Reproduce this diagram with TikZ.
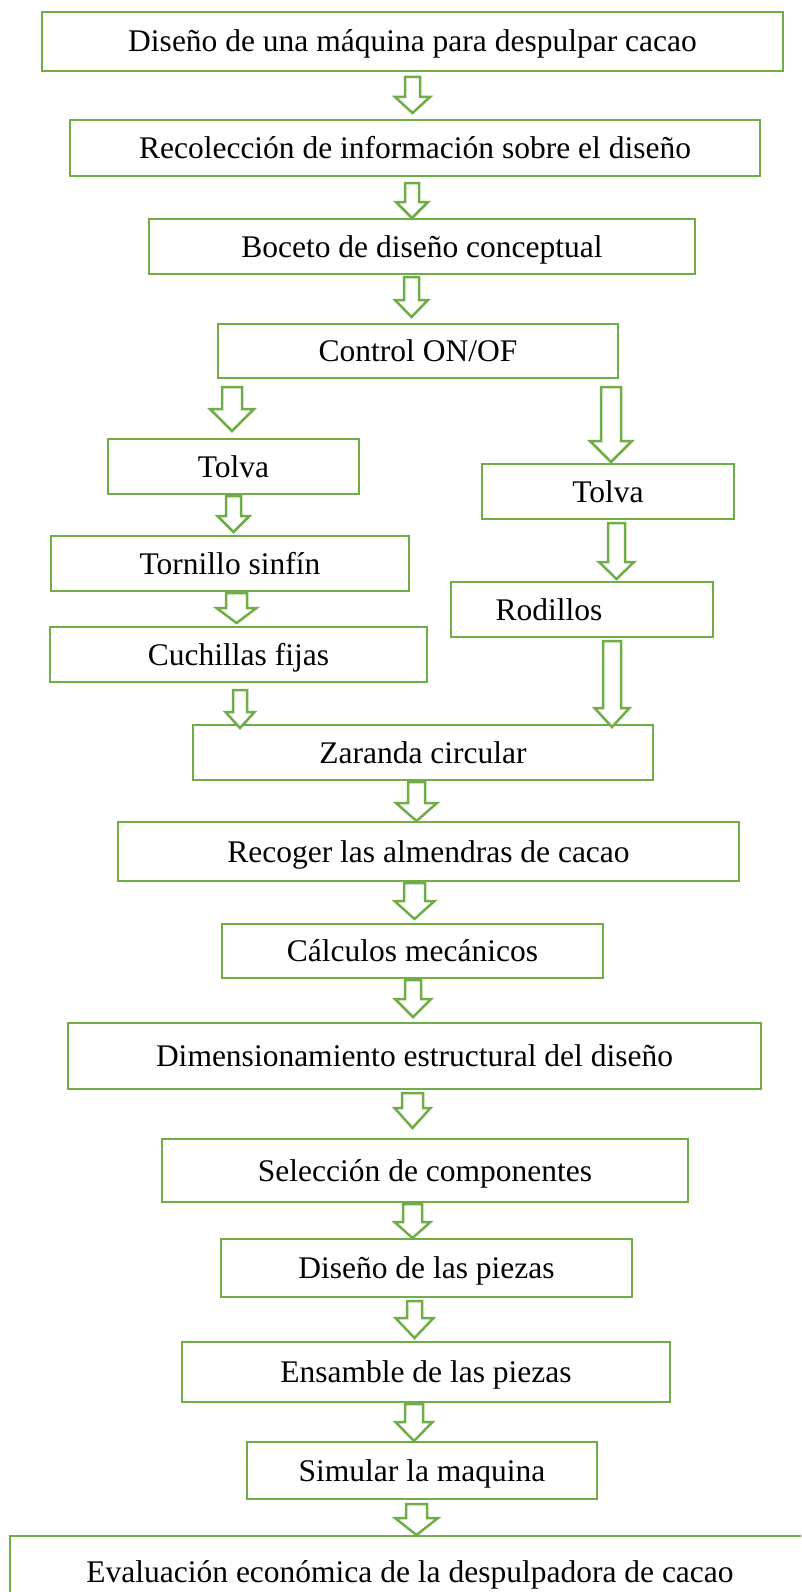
\documentclass[tikz,border=0pt]{standalone}
\usepackage{fontspec}
\setmainfont{Liberation Serif}
\definecolor{flowgreen}{RGB}{112,173,71}
\newcommand{\blockarr}[6]{%
  \draw[arrowshape] ({#1-#5},#2) -- ({#1+#5},#2) -- ({#1+#5},#3) -- ({#1+#6},#3)
    -- (#1,#4) -- ({#1-#6},#3) -- ({#1-#5},#3) -- cycle;}
\begin{document}
\begin{tikzpicture}[x=1pt,y=-1pt,
  box/.style={draw=flowgreen, line width=2.8pt, fill=white, rectangle, inner sep=0pt,
    font=\fontsize{31.5}{36}\selectfont, text height=21pt, text depth=0pt},
  txt/.style={inner sep=0pt, font=\fontsize{31.5}{36}\selectfont, text height=21pt, text depth=0pt},
  arrowshape/.style={draw=flowgreen, line width=2.5pt, fill=white, line join=miter}]
\useasboundingbox (0,0) rectangle (801,1592);
\clip (0,0) rectangle (801,1592);

\node[box, minimum width=741pt, minimum height=59pt] (b1) at (412.5,41.5) {Diseño de una máquina para despulpar cacao};
\node[box, minimum width=690pt, minimum height=56pt] (b2) at (415,148) {Recolección de información sobre el diseño};
\node[box, minimum width=546pt, minimum height=55pt] (b3) at (422,246.5) {Boceto de diseño conceptual};
\node[box, minimum width=400pt, minimum height=54pt] (b4) at (418,351) {Control ON/OF};
\node[box, minimum width=251pt, minimum height=55pt] (b5) at (233.5,466.5) {Tolva};
\node[box, minimum width=252pt, minimum height=55pt] (b6) at (608,491.5) {Tolva};
\node[box, minimum width=358pt, minimum height=55pt] (b7) at (230,563.5) {Tornillo sinfín};
\node[box, minimum width=262pt, minimum height=55pt] (b8) at (582,609.5) {};
\node[txt] (t8) at (549,609.5) {Rodillos};
\node[box, minimum width=377pt, minimum height=55pt] (b9) at (238.5,654.5) {Cuchillas fijas};
\node[box, minimum width=460pt, minimum height=55pt] (b10) at (423,752.5) {Zaranda circular};
\node[box, minimum width=621pt, minimum height=59pt] (b11) at (428.5,851.5) {Recoger las almendras de cacao};
\node[box, minimum width=381pt, minimum height=54pt] (b12) at (412.5,951) {Cálculos mecánicos};
\node[box, minimum width=693pt, minimum height=66pt] (b13) at (414.5,1056) {Dimensionamiento estructural del diseño};
\node[box, minimum width=526pt, minimum height=63pt] (b14) at (425,1170.5) {Selección de componentes};
\node[box, minimum width=411pt, minimum height=58pt] (b15) at (426.5,1268) {Diseño de las piezas};
\node[box, minimum width=488pt, minimum height=60pt] (b16) at (426,1372) {Ensamble de las piezas};
\node[box, minimum width=350pt, minimum height=57pt] (b17) at (422,1470.5) {Simular la maquina};
\node[box, minimum width=800pt, minimum height=72pt] (b18) at (410,1572) {Evaluación económica de la despulpadora de cacao};

% block arrows: cx, ytop, yhead, ytip, shaft half-width, head half-width
\blockarr{412.5}{77}{97}{113}{7.5}{17.5}
\blockarr{412}{183}{202}{218}{7}{16}
\blockarr{411.5}{277}{300}{317}{7.5}{16.5}
\blockarr{232}{387}{409}{431}{10}{22}
\blockarr{611}{387}{441}{462}{10}{21}
\blockarr{233.5}{496}{516}{532}{7.5}{16}
\blockarr{236.5}{593}{608}{623}{10.5}{20}
\blockarr{616.5}{523}{562}{579}{8.5}{17.5}
\blockarr{240}{690}{712}{728}{7}{14.5}
\blockarr{612}{641}{708}{727}{9}{17.5}
\blockarr{416.5}{782}{803}{821}{8.5}{20.5}
\blockarr{414.5}{883}{901}{919}{10.5}{20}
\blockarr{413}{980}{999}{1017}{8}{18}
\blockarr{412.5}{1093}{1108}{1128}{10.5}{18}
\blockarr{412.5}{1204}{1222}{1238}{9.5}{18}
\blockarr{414.5}{1301}{1318}{1338}{7.5}{19}
\blockarr{414}{1404}{1422}{1441}{9}{18.5}
\blockarr{416.5}{1504}{1518}{1535}{10.5}{21.5}
\end{tikzpicture}
\end{document}
